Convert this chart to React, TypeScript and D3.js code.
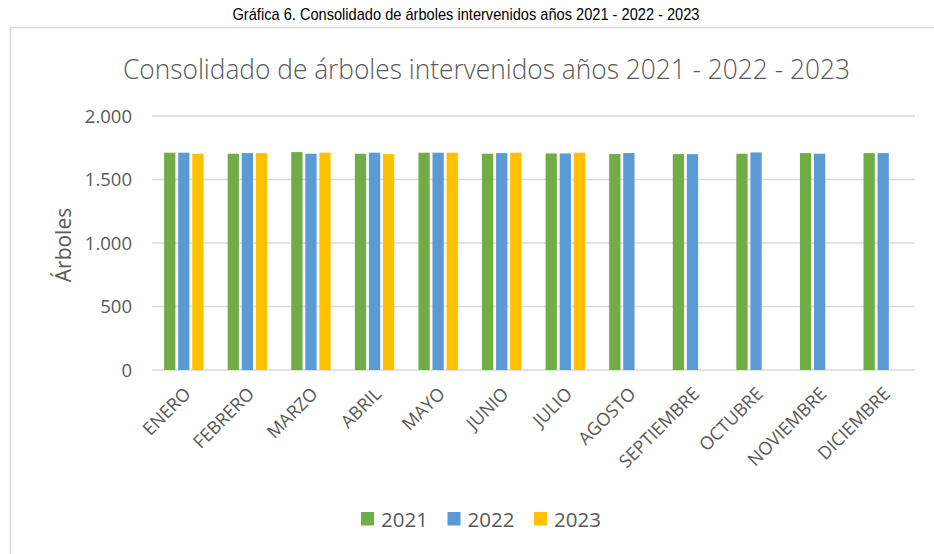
import React from 'react';
import * as d3 from 'd3';

// data
const months = ['ENERO', 'FEBRERO', 'MARZO', 'ABRIL', 'MAYO', 'JUNIO', 'JULIO', 'AGOSTO', 'SEPTIEMBRE', 'OCTUBRE', 'NOVIEMBRE', 'DICIEMBRE'];
const years = ['2021', '2022', '2023'];
const values2021 = [1711, 1703, 1716, 1703, 1711, 1703, 1705, 1700, 1700, 1703, 1708, 1708];
const values2022 = [1711, 1708, 1703, 1711, 1711, 1708, 1705, 1708, 1700, 1713, 1703, 1708];
const values2023 = [1703, 1708, 1711, 1700, 1711, 1711, 1711, null, null, null, null, null];
const yTicks = [0, 500, 1000, 1500, 2000];
const colors = ['#70AD47', '#5B9BD5', '#FFC000'];

const W = 934;
const H = 554;
const textColor = '#595959';
const font = "'Open Sans', sans-serif";

function App() {
  const series = [values2021, values2022, values2023];

  const x0 = d3.scaleBand<string>().domain(months).range([152, 915]);
  const x1 = d3.scaleBand<string>().domain(years).range([0, x0.bandwidth()]).paddingOuter(0.76);
  const y = d3.scaleLinear().domain([0, 2000]).range([370, 116]);
  const fmt = (v: number) => d3.format(',')(v).replace(/,/g, '.');

  const gap = 1.4;

  return (
    <svg width={W} height={H} style={{ position: 'absolute', left: 0, top: 0, background: '#fff' }}>
      {/* caption above the chart */}
      <text x={466} y={20} textAnchor="middle" fontFamily="'Liberation Sans', Arial, sans-serif" fontSize={17}
        textLength={467} lengthAdjust="spacingAndGlyphs" fill="#000">
        Gráfica 6. Consolidado de árboles intervenidos años 2021 - 2022 - 2023
      </text>

      {/* chart frame */}
      <rect x={10.5} y={27.5} width={940} height={540} fill="#fff" stroke="#D9D9D9" strokeWidth={1.5} />

      {/* chart title */}
      <text x={486.5} y={79} textAnchor="middle" fontFamily={font} fontSize={27} fontWeight={300}
        textLength={727} lengthAdjust="spacingAndGlyphs" fill={textColor}>
        Consolidado de árboles intervenidos años 2021 - 2022 - 2023
      </text>

      {/* gridlines + y ticks */}
      {yTicks.map((t) => (
        <g key={t}>
          <line x1={152} x2={915} y1={y(t)} y2={y(t)} stroke="#D9D9D9" strokeWidth={1.5} />
          <text x={132} y={y(t)} dy="0.36em" textAnchor="end" fontFamily={font} fontSize={18.5} fill={textColor}>
            {fmt(t)}
          </text>
        </g>
      ))}

      {/* y axis title */}
      <text transform={`translate(71, 245) rotate(-90)`} textAnchor="middle" fontFamily={font} fontSize={21} fill={textColor}>
        Árboles
      </text>

      {/* bars */}
      {months.map((m, i) => (
        <g key={m} transform={`translate(${x0(m)},0)`}>
          {years.map((yr, s) => {
            const v = series[s][i];
            if (v == null) return null;
            return (
              <rect key={yr} x={(x1(yr) as number) + gap} width={x1.bandwidth() - 2 * gap}
                y={y(v)} height={y(0) - y(v)} fill={colors[s]} />
            );
          })}
        </g>
      ))}

      {/* x labels */}
      {months.map((m) => {
        const cx = (x0(m) as number) + x0.bandwidth() / 2;
        return (
          <text key={m} transform={`translate(${cx + 8}, 395) rotate(-45)`} textAnchor="end"
            fontFamily={font} fontSize={18} fill={textColor}>
            {m}
          </text>
        );
      })}

      {/* legend */}
      {years.map((yr, s) => {
        const lx = 361 + s * 86.5;
        return (
          <g key={yr}>
            <rect x={lx} y={512} width={13} height={13.5} fill={colors[s]} />
            <text x={lx + 20} y={527} fontFamily={font} fontSize={20.5} fill={textColor}>{yr}</text>
          </g>
        );
      })}
    </svg>
  );
}

export default App;
